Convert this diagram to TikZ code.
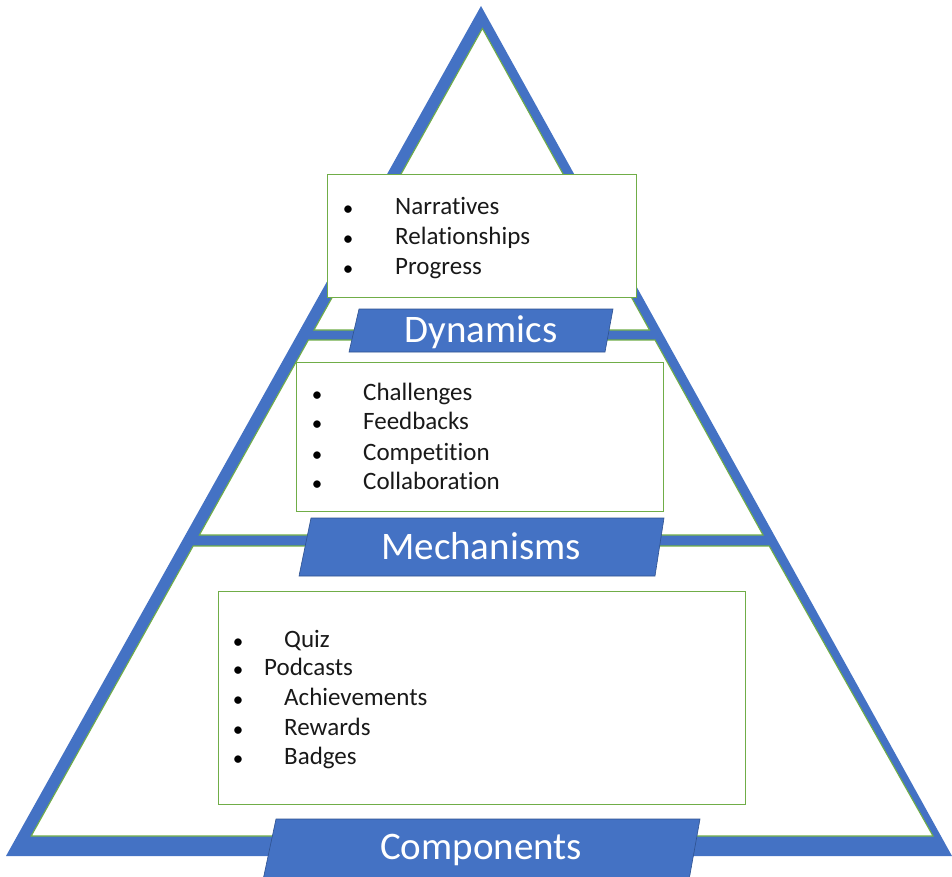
\documentclass[tikz,border=0pt]{standalone}
\usepackage{fontspec}
\setmainfont{Carlito}[Ligatures=NoCommon]
\definecolor{pyrblue}{HTML}{4472C4}
\definecolor{pyredge}{HTML}{2F528F}
\definecolor{pyrgreen}{HTML}{70AD47}
\begin{document}
\begin{tikzpicture}[x=1pt,y=-1pt,
  region/.style={fill=white, draw=pyrgreen, line width=1.1pt, line join=miter},
  listbox/.style={draw=pyrgreen, line width=1.2pt, fill=white, inner sep=0pt, anchor=north west},
  band/.style={fill=pyrblue, draw=pyredge, line width=0.6pt},
  bandlabel/.style={text=white, font=\fontsize{39}{44}\selectfont, inner sep=0pt, anchor=base},
  bul/.style={font=\fontsize{21}{26}\selectfont, anchor=base, inner sep=0pt, yshift=-1},
  itm/.style={font=\fontsize{25}{30}\selectfont, text=black!90, anchor=base west, inner sep=0pt}]
\useasboundingbox (0,0) rectangle (952,877);
\clip (0,0) rectangle (952,877);
% outer pyramid
\fill[pyrblue] (481,6) -- (6,856) -- (952,856) -- cycle;
% inner regions
\draw[region] (482.4,28.5) -- (649.5,330) -- (314,330) -- cycle;
\draw[region] (308.4,340) -- (655,340) -- (763,535) -- (199.4,535) -- cycle;
\draw[region] (193.2,546) -- (769.2,546) -- (933,836) -- (31.2,836) -- cycle;
% list boxes
\node[listbox, minimum width=309, minimum height=123] (b1) at (327,174) {};
\node[listbox, minimum width=367, minimum height=149] (b2) at (296,362) {};
\node[listbox, minimum width=527, minimum height=213] (b3) at (218,591) {};
% box 1 items
\node[bul] (d1b) at (348,215) {•};
\node[itm] (d1) at (395,215) {Narratives};
\node[bul] (d2b) at (348,244) {•};
\node[itm] (d2) at (395,244) {Relationships};
\node[bul] (d3b) at (348,274) {•};
\node[itm] (d3) at (395,274) {Progress};
% box 2 items
\node[bul] (m1b) at (317,400) {•};
\node[itm] (m1) at (363,400) {Challenges};
\node[bul] (m2b) at (317,429) {•};
\node[itm] (m2) at (363,429) {Feedbacks};
\node[bul] (m3b) at (317,460) {•};
\node[itm] (m3) at (363,460) {Competition};
\node[bul] (m4b) at (317,489) {•};
\node[itm] (m4) at (363,489) {Collaboration};
% box 3 items
\node[bul] (c1b) at (238,647) {•};
\node[itm] (c1) at (284,647) {Quiz};
\node[bul] (c2b) at (238,675) {•};
\node[itm] (c2) at (264,675) {Podcasts};
\node[bul] (c3b) at (238,705) {•};
\node[itm] (c3) at (284,705) {Achievements};
\node[bul] (c4b) at (238,735) {•};
\node[itm] (c4) at (284,735) {Rewards};
\node[bul] (c5b) at (238,764) {•};
\node[itm] (c5) at (284,764) {Badges};
% level labels
\draw[band] (359,309) -- (613,309) -- (605,352) -- (349,352) -- cycle;
\node[bandlabel] (dyn) at (481,342) {Dynamics};
\draw[band] (311,518) -- (664,518) -- (655,576) -- (299,576) -- cycle;
\node[bandlabel] (mech) at (481,559) {Mechanisms};
\draw[band] (276,819) -- (700,819) -- (689,880) -- (263,880) -- cycle;
\node[bandlabel] (comp) at (481,859) {Components};
\end{tikzpicture}
\end{document}
